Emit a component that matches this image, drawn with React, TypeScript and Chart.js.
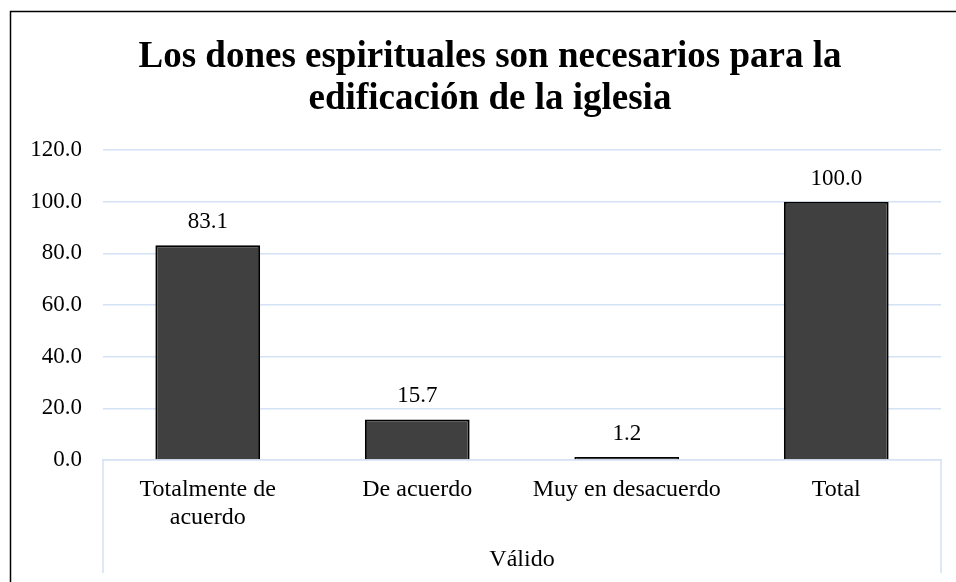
import React, { useEffect, useRef } from "react";
import { Chart, registerables } from "chart.js";

Chart.register(...registerables);

const titleLines = ["Los dones espirituales son necesarios para la", "edificación de la iglesia"];
const categories: (string | string[])[] = [["Totalmente de", "acuerdo"], "De acuerdo", "Muy en desacuerdo", "Total"];
const values = [83.1, 15.7, 1.2, 100.0];
const groupLabel = "Válido";
const yMin = 0;
const yMax = 120;
const yStep = 20;

const FONT = "'Liberation Serif', 'Times New Roman', serif";
const GRID = "#d5e1f4";

const frameTitlePlugin = {
  id: "frameTitle",
  beforeDraw(chart: any) {
    const { ctx, width, height } = chart;
    ctx.save();
    ctx.fillStyle = "#ffffff";
    ctx.fillRect(0, 0, width, height);
    ctx.strokeStyle = "#000000";
    ctx.lineWidth = 1.5;
    ctx.beginPath();
    ctx.moveTo(10.5, height);
    ctx.lineTo(10.5, 11.5);
    ctx.lineTo(width, 11.5);
    ctx.stroke();
    ctx.fillStyle = "#000000";
    ctx.font = `bold 37px ${FONT}`;
    ctx.textAlign = "center";
    ctx.textBaseline = "alphabetic";
    titleLines.forEach((t, i) => ctx.fillText(t, 490, 67 + i * 42));
    ctx.restore();
  },
  afterDraw(chart: any) {
    const { ctx, chartArea } = chart;
    ctx.save();
    // group separators of the category axis
    ctx.strokeStyle = GRID;
    ctx.lineWidth = 1.5;
    ctx.beginPath();
    [chartArea.left, chartArea.right].forEach((x: number) => {
      ctx.moveTo(x, chartArea.bottom);
      ctx.lineTo(x, chartArea.bottom + 113);
    });
    ctx.stroke();
    // data labels
    ctx.fillStyle = "#000000";
    ctx.font = `23px ${FONT}`;
    ctx.textAlign = "center";
    ctx.textBaseline = "middle";
    const meta = chart.getDatasetMeta(0);
    meta.data.forEach((bar: any, i: number) => {
      ctx.fillText(values[i].toFixed(1), bar.x, bar.y - 23);
    });
    ctx.restore();
  },
};

export default function App() {
  const ref = useRef<HTMLCanvasElement | null>(null);
  useEffect(() => {
    document.body.style.margin = "0";
    document.body.style.overflow = "hidden";
    const c = ref.current;
    if (!c) return;
    const chart = new Chart(c, {
      type: "bar",
      data: {
        labels: categories,
        datasets: [
          {
            data: values,
            backgroundColor: "#404040",
            borderColor: "#000000",
            borderWidth: 2,
            barPercentage: 1,
            categoryPercentage: 0.5,
          },
        ],
      },
      options: {
        animation: false,
        responsive: false,
        devicePixelRatio: 1,
        layout: { padding: { top: 150, left: 10, right: 15, bottom: 0 } },
        plugins: { legend: { display: false }, title: { display: false }, tooltip: { enabled: false } },
        scales: {
          x: {
            grid: { display: false, drawTicks: false },
            border: { display: true, color: GRID, width: 1.5 },
            ticks: {
              color: "#000000",
              font: { family: FONT, size: 24, lineHeight: 1.15 },
              padding: 16,
              maxRotation: 0,
              minRotation: 0,
              autoSkip: false,
            },
            title: {
              display: true,
              text: groupLabel,
              color: "#000000",
              font: { family: FONT, size: 24, lineHeight: 1.15 },
              padding: { top: 0, bottom: 8 },
            },
            afterFit(scale: any) {
              scale.height = 122;
            },
          },
          y: {
            min: yMin,
            max: yMax,
            ticks: {
              stepSize: yStep,
              color: "#000000",
              font: { family: FONT, size: 23 },
              padding: 21,
              callback: (v: any) => Number(v).toFixed(1),
            },
            grid: { color: GRID, lineWidth: 1.5, drawTicks: false },
            border: { display: false },
            afterFit(scale: any) {
              scale.width = 93;
            },
          },
        },
      },
      plugins: [frameTitlePlugin],
    });
    return () => chart.destroy();
  }, []);
  return <canvas ref={ref} width={956} height={582} style={{ display: "block" }} />;
}
